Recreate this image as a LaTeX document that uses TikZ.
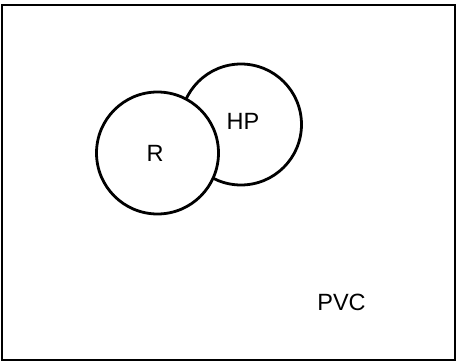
\documentclass[tikz,border=0pt]{standalone}
\usepackage{fontspec}
\setmainfont{Liberation Sans}
\begin{document}
\begin{tikzpicture}[x=1pt,y=-1pt,
  circ/.style={circle,draw=black,line width=2.8pt,fill=white,inner sep=0pt},
  lbl/.style={font=\fontsize{23.5}{27}\selectfont,inner sep=0pt}]
\useasboundingbox (0,0) rectangle (456,361);
\draw[line width=1.8pt] (2,5) rectangle (455,360);
\node[circ,minimum size=121pt] (hp) at (241,124.5) {};
\node[circ,minimum size=122pt] (r) at (157.5,153) {};
\node[lbl] (rl) at (155,153) {R};
\node[lbl] (hpl) at (243,121) {HP};
\node[lbl] (pvc) at (341.5,302.5) {PVC};
\end{tikzpicture}
\end{document}
